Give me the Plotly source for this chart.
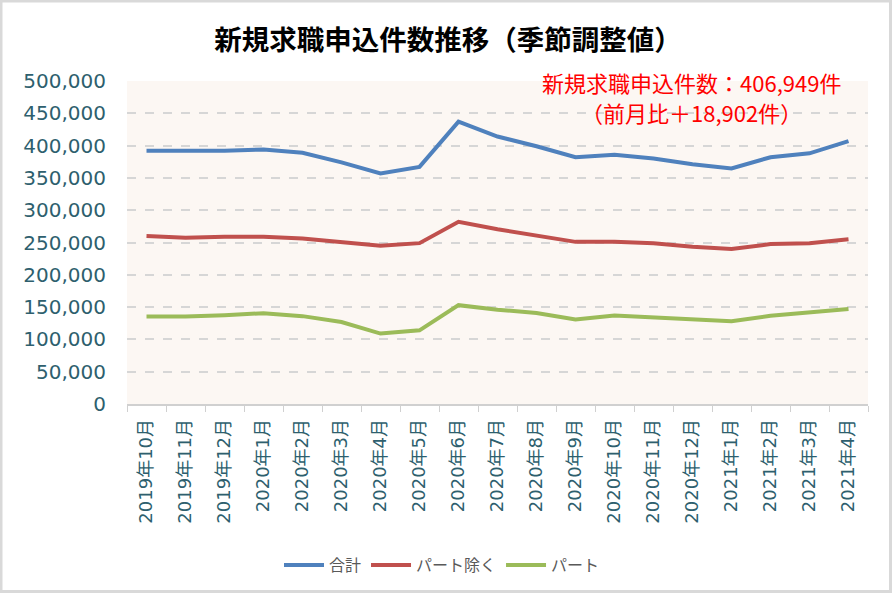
import plotly.graph_objects as go

months = ["2019年10月", "2019年11月", "2019年12月", "2020年1月", "2020年2月", "2020年3月",
          "2020年4月", "2020年5月", "2020年6月", "2020年7月", "2020年8月", "2020年9月",
          "2020年10月", "2020年11月", "2020年12月", "2021年1月", "2021年2月", "2021年3月",
          "2021年4月"]
total = [392000, 392000, 392000, 394000, 389000, 374000, 357000, 367000, 437000, 414000,
         399000, 382000, 386000, 380000, 371000, 364500, 382000, 388047, 406949]
non_part = [260000, 257500, 259000, 259000, 256000, 250000, 245000, 249000, 282000, 270500,
            260500, 251000, 251000, 249000, 243500, 240000, 247500, 249000, 255000]
part = [135500, 135500, 137500, 140500, 136000, 127000, 109000, 114000, 153000, 146000,
        141000, 131000, 137000, 134000, 131000, 128000, 136500, 141500, 147000]
names = ["合計", "パート除く", "パート"]
colors = ["#4F81BD", "#C0504D", "#9BBB59"]
yticks = list(range(0, 500001, 50000))
note_lines = ["新規求職申込件数：406,949件", "（前月比＋18,902件）"]

W, H = 892, 593
L, R, T, B = 127, 24, 81, 189

fig = go.Figure()
for name, vals, c in zip(names, [total, non_part, part], colors):
    fig.add_trace(go.Scatter(x=months, y=vals, name=name, mode="lines",
                             line=dict(color=c, width=4)))

tick_color = "#2E5F6E"
fig.update_layout(
    width=W, height=H,
    margin=dict(l=L, r=R, t=T, b=B),
    paper_bgcolor="white",
    plot_bgcolor="#FCF7F3",
    font=dict(family="Noto Sans CJK JP", color=tick_color),
    title=dict(text="<b>新規求職申込件数推移（季節調整値）</b>", x=448 / W, xref="container",
               xanchor="center", y=1 - 40 / H, yanchor="middle",
               font=dict(size=27.5, color="black", family="Noto Sans CJK JP")),
    showlegend=True,
    legend=dict(orientation="h", x=442 / W, xanchor="center", xref="container",
                y=28 / H, yref="container", yanchor="middle",
                font=dict(size=16, color="#595959"), itemwidth=40,
                bgcolor="rgba(0,0,0,0)"),
    xaxis=dict(type="category", range=[-0.5, len(months) - 0.5], tickangle=-90,
               tickson="boundaries",
               ticks="outside", ticklen=6, tickcolor="#D0D0D0",
               showline=True, linecolor="#D0D0D0", linewidth=1.5,
               showgrid=False, ticklabelstandoff=6,
               tickfont=dict(size=18, color=tick_color, family="DejaVu Sans, Noto Sans CJK JP")),
    yaxis=dict(range=[0, 500000], tickvals=yticks, tickformat=",d",
               showgrid=True, gridcolor="#D6D6D6", griddash="dash", gridwidth=2,
               zeroline=False, showline=False, ticks="", ticklabelstandoff=20,
               tickfont=dict(size=20, color=tick_color, family="DejaVu Sans")),
)

pw, ph = W - L - R, H - T - B
for text, ypix in zip(note_lines, [82, 112]):
    fig.add_annotation(text=text, xref="paper", yref="paper", x=(691 - L) / pw,
                       y=(H - B - ypix) / ph, xanchor="center", yanchor="middle",
                       showarrow=False, align="center", borderpad=0,
                       font=dict(size=22, color="#FF0000", family="Noto Sans CJK JP"))

fig.add_shape(type="rect", xref="paper", yref="paper",
              x0=(1 - L) / pw, x1=(W - 1.5 - L) / pw,
              y0=-(B - 1.5) / ph, y1=(H - B - 1) / ph,
              line=dict(color="#D9D9D9", width=3), layer="above")

fig.write_html("out.html", config={"displayModeBar": False},
               post_script="document.body.style.margin='0';")
